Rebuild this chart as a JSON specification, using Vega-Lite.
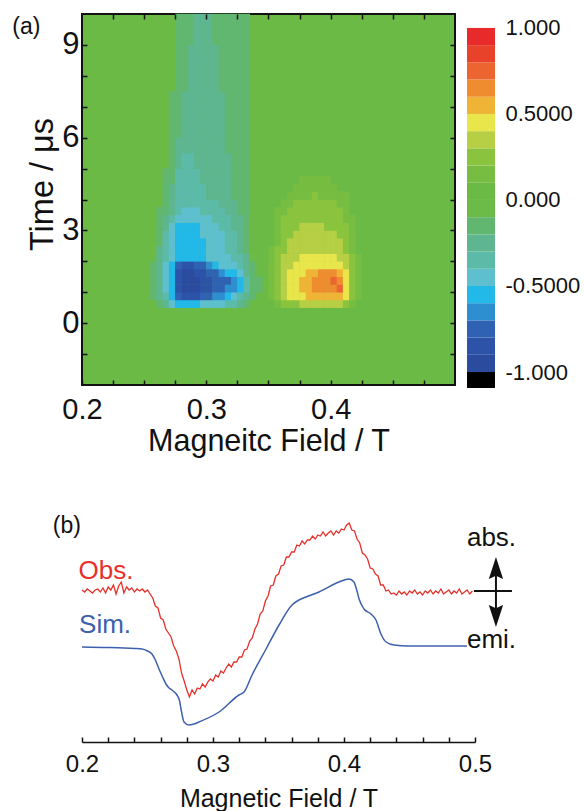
{
"$schema":"https://vega.github.io/schema/vega-lite/v6.json",
"padding":{"left":11,"top":12,"right":0,"bottom":0},
"background":"white",
"config":{"font":"Liberation Sans","view":{"stroke":null},"axis":{"labelColor":"#111","titleColor":"#111","domainColor":"#111","tickColor":"#111","grid":false,"labelFlush":false,"labelOverlap":false,"titleFontWeight":"normal"}},
"datasets":{
"cells":[
{"x":0.2625,"t":0.625,"v":-0.15},{"x":0.2675,"t":0.625,"v":-0.3},{"x":0.2725,"t":0.625,"v":-0.42},{"x":0.2775,"t":0.625,"v":-0.52},{"x":0.2825,"t":0.625,"v":-0.55},{"x":0.2875,"t":0.625,"v":-0.55},{"x":0.2925,"t":0.625,"v":-0.54},{"x":0.2975,"t":0.625,"v":-0.5},{"x":0.3025,"t":0.625,"v":-0.46},{"x":0.3075,"t":0.625,"v":-0.45},{"x":0.3125,"t":0.625,"v":-0.42},{"x":0.3175,"t":0.625,"v":-0.38},{"x":0.3225,"t":0.625,"v":-0.33},{"x":0.3275,"t":0.625,"v":-0.26},{"x":0.3325,"t":0.625,"v":-0.16},
{"x":0.2575,"t":0.875,"v":-0.12},{"x":0.2625,"t":0.875,"v":-0.25},{"x":0.2675,"t":0.875,"v":-0.4},{"x":0.2725,"t":0.875,"v":-0.52},{"x":0.2775,"t":0.875,"v":-0.72},{"x":0.2825,"t":0.875,"v":-0.85},{"x":0.2875,"t":0.875,"v":-0.86},{"x":0.2925,"t":0.875,"v":-0.82},{"x":0.2975,"t":0.875,"v":-0.76},{"x":0.3025,"t":0.875,"v":-0.72},{"x":0.3075,"t":0.875,"v":-0.68},{"x":0.3125,"t":0.875,"v":-0.64},{"x":0.3175,"t":0.875,"v":-0.58},{"x":0.3225,"t":0.875,"v":-0.5},{"x":0.3275,"t":0.875,"v":-0.4},{"x":0.3325,"t":0.875,"v":-0.28},{"x":0.3375,"t":0.875,"v":-0.14},
{"x":0.2575,"t":1.125,"v":-0.15},{"x":0.2625,"t":1.125,"v":-0.3},{"x":0.2675,"t":1.125,"v":-0.45},{"x":0.2725,"t":1.125,"v":-0.58},{"x":0.2775,"t":1.125,"v":-0.84},{"x":0.2825,"t":1.125,"v":-0.94},{"x":0.2875,"t":1.125,"v":-0.95},{"x":0.2925,"t":1.125,"v":-0.92},{"x":0.2975,"t":1.125,"v":-0.86},{"x":0.3025,"t":1.125,"v":-0.82},{"x":0.3075,"t":1.125,"v":-0.78},{"x":0.3125,"t":1.125,"v":-0.74},{"x":0.3175,"t":1.125,"v":-0.7},{"x":0.3225,"t":1.125,"v":-0.64},{"x":0.3275,"t":1.125,"v":-0.56},{"x":0.3325,"t":1.125,"v":-0.38},{"x":0.3375,"t":1.125,"v":-0.2},{"x":0.3425,"t":1.125,"v":-0.11},
{"x":0.2575,"t":1.375,"v":-0.15},{"x":0.2625,"t":1.375,"v":-0.3},{"x":0.2675,"t":1.375,"v":-0.45},{"x":0.2725,"t":1.375,"v":-0.6},{"x":0.2775,"t":1.375,"v":-0.86},{"x":0.2825,"t":1.375,"v":-0.95},{"x":0.2875,"t":1.375,"v":-0.96},{"x":0.2925,"t":1.375,"v":-0.93},{"x":0.2975,"t":1.375,"v":-0.86},{"x":0.3025,"t":1.375,"v":-0.82},{"x":0.3075,"t":1.375,"v":-0.79},{"x":0.3125,"t":1.375,"v":-0.76},{"x":0.3175,"t":1.375,"v":-0.72},{"x":0.3225,"t":1.375,"v":-0.67},{"x":0.3275,"t":1.375,"v":-0.6},{"x":0.3325,"t":1.375,"v":-0.4},{"x":0.3375,"t":1.375,"v":-0.2},{"x":0.3425,"t":1.375,"v":-0.11},
{"x":0.2575,"t":1.625,"v":-0.14},{"x":0.2625,"t":1.625,"v":-0.29},{"x":0.2675,"t":1.625,"v":-0.44},{"x":0.2725,"t":1.625,"v":-0.58},{"x":0.2775,"t":1.625,"v":-0.82},{"x":0.2825,"t":1.625,"v":-0.92},{"x":0.2875,"t":1.625,"v":-0.93},{"x":0.2925,"t":1.625,"v":-0.88},{"x":0.2975,"t":1.625,"v":-0.82},{"x":0.3025,"t":1.625,"v":-0.77},{"x":0.3075,"t":1.625,"v":-0.72},{"x":0.3125,"t":1.625,"v":-0.67},{"x":0.3175,"t":1.625,"v":-0.6},{"x":0.3225,"t":1.625,"v":-0.53},{"x":0.3275,"t":1.625,"v":-0.44},{"x":0.3325,"t":1.625,"v":-0.3},{"x":0.3375,"t":1.625,"v":-0.15},
{"x":0.2575,"t":1.875,"v":-0.12},{"x":0.2625,"t":1.875,"v":-0.27},{"x":0.2675,"t":1.875,"v":-0.42},{"x":0.2725,"t":1.875,"v":-0.55},{"x":0.2775,"t":1.875,"v":-0.74},{"x":0.2825,"t":1.875,"v":-0.83},{"x":0.2875,"t":1.875,"v":-0.83},{"x":0.2925,"t":1.875,"v":-0.78},{"x":0.2975,"t":1.875,"v":-0.71},{"x":0.3025,"t":1.875,"v":-0.63},{"x":0.3075,"t":1.875,"v":-0.56},{"x":0.3125,"t":1.875,"v":-0.5},{"x":0.3175,"t":1.875,"v":-0.46},{"x":0.3225,"t":1.875,"v":-0.41},{"x":0.3275,"t":1.875,"v":-0.35},{"x":0.3325,"t":1.875,"v":-0.25},{"x":0.3375,"t":1.875,"v":-0.12},
{"x":0.2575,"t":2.125,"v":-0.1},{"x":0.2625,"t":2.125,"v":-0.24},{"x":0.2675,"t":2.125,"v":-0.4},{"x":0.2725,"t":2.125,"v":-0.48},{"x":0.2775,"t":2.125,"v":-0.56},{"x":0.2825,"t":2.125,"v":-0.6},{"x":0.2875,"t":2.125,"v":-0.6},{"x":0.2925,"t":2.125,"v":-0.57},{"x":0.2975,"t":2.125,"v":-0.53},{"x":0.3025,"t":2.125,"v":-0.48},{"x":0.3075,"t":2.125,"v":-0.46},{"x":0.3125,"t":2.125,"v":-0.44},{"x":0.3175,"t":2.125,"v":-0.41},{"x":0.3225,"t":2.125,"v":-0.37},{"x":0.3275,"t":2.125,"v":-0.31},{"x":0.3325,"t":2.125,"v":-0.21},{"x":0.3375,"t":2.125,"v":-0.1},
{"x":0.2575,"t":2.375,"v":-0.1},{"x":0.2625,"t":2.375,"v":-0.22},{"x":0.2675,"t":2.375,"v":-0.37},{"x":0.2725,"t":2.375,"v":-0.46},{"x":0.2775,"t":2.375,"v":-0.55},{"x":0.2825,"t":2.375,"v":-0.57},{"x":0.2875,"t":2.375,"v":-0.57},{"x":0.2925,"t":2.375,"v":-0.55},{"x":0.2975,"t":2.375,"v":-0.52},{"x":0.3025,"t":2.375,"v":-0.47},{"x":0.3075,"t":2.375,"v":-0.45},{"x":0.3125,"t":2.375,"v":-0.43},{"x":0.3175,"t":2.375,"v":-0.4},{"x":0.3225,"t":2.375,"v":-0.35},{"x":0.3275,"t":2.375,"v":-0.29},{"x":0.3325,"t":2.375,"v":-0.19},
{"x":0.2625,"t":2.625,"v":-0.2},{"x":0.2675,"t":2.625,"v":-0.35},{"x":0.2725,"t":2.625,"v":-0.45},{"x":0.2775,"t":2.625,"v":-0.54},{"x":0.2825,"t":2.625,"v":-0.56},{"x":0.2875,"t":2.625,"v":-0.56},{"x":0.2925,"t":2.625,"v":-0.54},{"x":0.2975,"t":2.625,"v":-0.51},{"x":0.3025,"t":2.625,"v":-0.47},{"x":0.3075,"t":2.625,"v":-0.44},{"x":0.3125,"t":2.625,"v":-0.42},{"x":0.3175,"t":2.625,"v":-0.38},{"x":0.3225,"t":2.625,"v":-0.34},{"x":0.3275,"t":2.625,"v":-0.27},{"x":0.3325,"t":2.625,"v":-0.17},
{"x":0.2625,"t":2.875,"v":-0.19},{"x":0.2675,"t":2.875,"v":-0.33},{"x":0.2725,"t":2.875,"v":-0.44},{"x":0.2775,"t":2.875,"v":-0.53},{"x":0.2825,"t":2.875,"v":-0.55},{"x":0.2875,"t":2.875,"v":-0.55},{"x":0.2925,"t":2.875,"v":-0.53},{"x":0.2975,"t":2.875,"v":-0.5},{"x":0.3025,"t":2.875,"v":-0.46},{"x":0.3075,"t":2.875,"v":-0.43},{"x":0.3125,"t":2.875,"v":-0.41},{"x":0.3175,"t":2.875,"v":-0.37},{"x":0.3225,"t":2.875,"v":-0.32},{"x":0.3275,"t":2.875,"v":-0.25},{"x":0.3325,"t":2.875,"v":-0.15},
{"x":0.2625,"t":3.125,"v":-0.17},{"x":0.2675,"t":3.125,"v":-0.3},{"x":0.2725,"t":3.125,"v":-0.42},{"x":0.2775,"t":3.125,"v":-0.51},{"x":0.2825,"t":3.125,"v":-0.53},{"x":0.2875,"t":3.125,"v":-0.53},{"x":0.2925,"t":3.125,"v":-0.52},{"x":0.2975,"t":3.125,"v":-0.47},{"x":0.3025,"t":3.125,"v":-0.44},{"x":0.3075,"t":3.125,"v":-0.42},{"x":0.3125,"t":3.125,"v":-0.4},{"x":0.3175,"t":3.125,"v":-0.35},{"x":0.3225,"t":3.125,"v":-0.3},{"x":0.3275,"t":3.125,"v":-0.23},{"x":0.3325,"t":3.125,"v":-0.14},
{"x":0.2625,"t":3.375,"v":-0.14},{"x":0.2675,"t":3.375,"v":-0.25},{"x":0.2725,"t":3.375,"v":-0.38},{"x":0.2775,"t":3.375,"v":-0.46},{"x":0.2825,"t":3.375,"v":-0.48},{"x":0.2875,"t":3.375,"v":-0.48},{"x":0.2925,"t":3.375,"v":-0.46},{"x":0.2975,"t":3.375,"v":-0.44},{"x":0.3025,"t":3.375,"v":-0.42},{"x":0.3075,"t":3.375,"v":-0.4},{"x":0.3125,"t":3.375,"v":-0.37},{"x":0.3175,"t":3.375,"v":-0.33},{"x":0.3225,"t":3.375,"v":-0.28},{"x":0.3275,"t":3.375,"v":-0.21},{"x":0.3325,"t":3.375,"v":-0.13},
{"x":0.2625,"t":3.625,"v":-0.12},{"x":0.2675,"t":3.625,"v":-0.2},{"x":0.2725,"t":3.625,"v":-0.3},{"x":0.2775,"t":3.625,"v":-0.38},{"x":0.2825,"t":3.625,"v":-0.42},{"x":0.2875,"t":3.625,"v":-0.42},{"x":0.2925,"t":3.625,"v":-0.41},{"x":0.2975,"t":3.625,"v":-0.39},{"x":0.3025,"t":3.625,"v":-0.37},{"x":0.3075,"t":3.625,"v":-0.35},{"x":0.3125,"t":3.625,"v":-0.32},{"x":0.3175,"t":3.625,"v":-0.29},{"x":0.3225,"t":3.625,"v":-0.24},{"x":0.3275,"t":3.625,"v":-0.19},{"x":0.3325,"t":3.625,"v":-0.12},
{"x":0.2675,"t":3.875,"v":-0.15},{"x":0.2725,"t":3.875,"v":-0.25},{"x":0.2775,"t":3.875,"v":-0.33},{"x":0.2825,"t":3.875,"v":-0.36},{"x":0.2875,"t":3.875,"v":-0.37},{"x":0.2925,"t":3.875,"v":-0.37},{"x":0.2975,"t":3.875,"v":-0.36},{"x":0.3025,"t":3.875,"v":-0.34},{"x":0.3075,"t":3.875,"v":-0.32},{"x":0.3125,"t":3.875,"v":-0.29},{"x":0.3175,"t":3.875,"v":-0.26},{"x":0.3225,"t":3.875,"v":-0.22},{"x":0.3275,"t":3.875,"v":-0.17},{"x":0.3325,"t":3.875,"v":-0.11},
{"x":0.3575,"t":0.625,"v":0.12},{"x":0.3625,"t":0.625,"v":0.2},{"x":0.3675,"t":0.625,"v":0.25},{"x":0.3725,"t":0.625,"v":0.28},{"x":0.3775,"t":0.625,"v":0.3},{"x":0.3825,"t":0.625,"v":0.32},{"x":0.3875,"t":0.625,"v":0.33},{"x":0.3925,"t":0.625,"v":0.33},{"x":0.3975,"t":0.625,"v":0.33},{"x":0.4025,"t":0.625,"v":0.32},{"x":0.4075,"t":0.625,"v":0.3},{"x":0.4125,"t":0.625,"v":0.25},{"x":0.4175,"t":0.625,"v":0.15},
{"x":0.3525,"t":0.875,"v":0.12},{"x":0.3575,"t":0.875,"v":0.22},{"x":0.3625,"t":0.875,"v":0.33},{"x":0.3675,"t":0.875,"v":0.42},{"x":0.3725,"t":0.875,"v":0.45},{"x":0.3775,"t":0.875,"v":0.47},{"x":0.3825,"t":0.875,"v":0.5},{"x":0.3875,"t":0.875,"v":0.52},{"x":0.3925,"t":0.875,"v":0.53},{"x":0.3975,"t":0.875,"v":0.53},{"x":0.4025,"t":0.875,"v":0.52},{"x":0.4075,"t":0.875,"v":0.5},{"x":0.4125,"t":0.875,"v":0.42},{"x":0.4175,"t":0.875,"v":0.25},{"x":0.4225,"t":0.875,"v":0.12},
{"x":0.3525,"t":1.125,"v":0.15},{"x":0.3575,"t":1.125,"v":0.25},{"x":0.3625,"t":1.125,"v":0.35},{"x":0.3675,"t":1.125,"v":0.45},{"x":0.3725,"t":1.125,"v":0.48},{"x":0.3775,"t":1.125,"v":0.5},{"x":0.3825,"t":1.125,"v":0.56},{"x":0.3875,"t":1.125,"v":0.62},{"x":0.3925,"t":1.125,"v":0.64},{"x":0.3975,"t":1.125,"v":0.65},{"x":0.4025,"t":1.125,"v":0.68},{"x":0.4075,"t":1.125,"v":0.72},{"x":0.4125,"t":1.125,"v":0.45},{"x":0.4175,"t":1.125,"v":0.28},{"x":0.4225,"t":1.125,"v":0.13},
{"x":0.3525,"t":1.375,"v":0.15},{"x":0.3575,"t":1.375,"v":0.25},{"x":0.3625,"t":1.375,"v":0.36},{"x":0.3675,"t":1.375,"v":0.45},{"x":0.3725,"t":1.375,"v":0.48},{"x":0.3775,"t":1.375,"v":0.5},{"x":0.3825,"t":1.375,"v":0.57},{"x":0.3875,"t":1.375,"v":0.63},{"x":0.3925,"t":1.375,"v":0.65},{"x":0.3975,"t":1.375,"v":0.66},{"x":0.4025,"t":1.375,"v":0.7},{"x":0.4075,"t":1.375,"v":0.66},{"x":0.4125,"t":1.375,"v":0.46},{"x":0.4175,"t":1.375,"v":0.28},{"x":0.4225,"t":1.375,"v":0.13},
{"x":0.3525,"t":1.625,"v":0.14},{"x":0.3575,"t":1.625,"v":0.24},{"x":0.3625,"t":1.625,"v":0.34},{"x":0.3675,"t":1.625,"v":0.43},{"x":0.3725,"t":1.625,"v":0.46},{"x":0.3775,"t":1.625,"v":0.48},{"x":0.3825,"t":1.625,"v":0.54},{"x":0.3875,"t":1.625,"v":0.58},{"x":0.3925,"t":1.625,"v":0.6},{"x":0.3975,"t":1.625,"v":0.61},{"x":0.4025,"t":1.625,"v":0.6},{"x":0.4075,"t":1.625,"v":0.56},{"x":0.4125,"t":1.625,"v":0.44},{"x":0.4175,"t":1.625,"v":0.26},{"x":0.4225,"t":1.625,"v":0.12},
{"x":0.3525,"t":1.875,"v":0.13},{"x":0.3575,"t":1.875,"v":0.23},{"x":0.3625,"t":1.875,"v":0.32},{"x":0.3675,"t":1.875,"v":0.38},{"x":0.3725,"t":1.875,"v":0.42},{"x":0.3775,"t":1.875,"v":0.45},{"x":0.3825,"t":1.875,"v":0.47},{"x":0.3875,"t":1.875,"v":0.48},{"x":0.3925,"t":1.875,"v":0.48},{"x":0.3975,"t":1.875,"v":0.47},{"x":0.4025,"t":1.875,"v":0.46},{"x":0.4075,"t":1.875,"v":0.44},{"x":0.4125,"t":1.875,"v":0.36},{"x":0.4175,"t":1.875,"v":0.22},{"x":0.4225,"t":1.875,"v":0.11},
{"x":0.3525,"t":2.125,"v":0.12},{"x":0.3575,"t":2.125,"v":0.22},{"x":0.3625,"t":2.125,"v":0.3},{"x":0.3675,"t":2.125,"v":0.35},{"x":0.3725,"t":2.125,"v":0.38},{"x":0.3775,"t":2.125,"v":0.41},{"x":0.3825,"t":2.125,"v":0.43},{"x":0.3875,"t":2.125,"v":0.44},{"x":0.3925,"t":2.125,"v":0.44},{"x":0.3975,"t":2.125,"v":0.43},{"x":0.4025,"t":2.125,"v":0.42},{"x":0.4075,"t":2.125,"v":0.38},{"x":0.4125,"t":2.125,"v":0.32},{"x":0.4175,"t":2.125,"v":0.2},{"x":0.4225,"t":2.125,"v":0.1},
{"x":0.3525,"t":2.375,"v":0.11},{"x":0.3575,"t":2.375,"v":0.2},{"x":0.3625,"t":2.375,"v":0.28},{"x":0.3675,"t":2.375,"v":0.32},{"x":0.3725,"t":2.375,"v":0.35},{"x":0.3775,"t":2.375,"v":0.37},{"x":0.3825,"t":2.375,"v":0.38},{"x":0.3875,"t":2.375,"v":0.39},{"x":0.3925,"t":2.375,"v":0.38},{"x":0.3975,"t":2.375,"v":0.37},{"x":0.4025,"t":2.375,"v":0.36},{"x":0.4075,"t":2.375,"v":0.34},{"x":0.4125,"t":2.375,"v":0.28},{"x":0.4175,"t":2.375,"v":0.18},
{"x":0.3575,"t":2.625,"v":0.18},{"x":0.3625,"t":2.625,"v":0.26},{"x":0.3675,"t":2.625,"v":0.3},{"x":0.3725,"t":2.625,"v":0.33},{"x":0.3775,"t":2.625,"v":0.35},{"x":0.3825,"t":2.625,"v":0.36},{"x":0.3875,"t":2.625,"v":0.36},{"x":0.3925,"t":2.625,"v":0.35},{"x":0.3975,"t":2.625,"v":0.34},{"x":0.4025,"t":2.625,"v":0.33},{"x":0.4075,"t":2.625,"v":0.31},{"x":0.4125,"t":2.625,"v":0.25},{"x":0.4175,"t":2.625,"v":0.15},
{"x":0.3575,"t":2.875,"v":0.16},{"x":0.3625,"t":2.875,"v":0.24},{"x":0.3675,"t":2.875,"v":0.28},{"x":0.3725,"t":2.875,"v":0.31},{"x":0.3775,"t":2.875,"v":0.33},{"x":0.3825,"t":2.875,"v":0.33},{"x":0.3875,"t":2.875,"v":0.34},{"x":0.3925,"t":2.875,"v":0.33},{"x":0.3975,"t":2.875,"v":0.32},{"x":0.4025,"t":2.875,"v":0.31},{"x":0.4075,"t":2.875,"v":0.28},{"x":0.4125,"t":2.875,"v":0.22},{"x":0.4175,"t":2.875,"v":0.13},
{"x":0.3575,"t":3.125,"v":0.14},{"x":0.3625,"t":3.125,"v":0.22},{"x":0.3675,"t":3.125,"v":0.26},{"x":0.3725,"t":3.125,"v":0.28},{"x":0.3775,"t":3.125,"v":0.3},{"x":0.3825,"t":3.125,"v":0.31},{"x":0.3875,"t":3.125,"v":0.31},{"x":0.3925,"t":3.125,"v":0.3},{"x":0.3975,"t":3.125,"v":0.29},{"x":0.4025,"t":3.125,"v":0.28},{"x":0.4075,"t":3.125,"v":0.25},{"x":0.4125,"t":3.125,"v":0.2},{"x":0.4175,"t":3.125,"v":0.12},
{"x":0.3575,"t":3.375,"v":0.13},{"x":0.3625,"t":3.375,"v":0.2},{"x":0.3675,"t":3.375,"v":0.24},{"x":0.3725,"t":3.375,"v":0.26},{"x":0.3775,"t":3.375,"v":0.27},{"x":0.3825,"t":3.375,"v":0.28},{"x":0.3875,"t":3.375,"v":0.28},{"x":0.3925,"t":3.375,"v":0.28},{"x":0.3975,"t":3.375,"v":0.27},{"x":0.4025,"t":3.375,"v":0.26},{"x":0.4075,"t":3.375,"v":0.23},{"x":0.4125,"t":3.375,"v":0.17},{"x":0.4175,"t":3.375,"v":0.11},
{"x":0.3575,"t":3.625,"v":0.12},{"x":0.3625,"t":3.625,"v":0.17},{"x":0.3675,"t":3.625,"v":0.22},{"x":0.3725,"t":3.625,"v":0.24},{"x":0.3775,"t":3.625,"v":0.25},{"x":0.3825,"t":3.625,"v":0.26},{"x":0.3875,"t":3.625,"v":0.27},{"x":0.3925,"t":3.625,"v":0.26},{"x":0.3975,"t":3.625,"v":0.25},{"x":0.4025,"t":3.625,"v":0.24},{"x":0.4075,"t":3.625,"v":0.2},{"x":0.4125,"t":3.625,"v":0.15},
{"x":0.3625,"t":3.875,"v":0.15},{"x":0.3675,"t":3.875,"v":0.18},{"x":0.3725,"t":3.875,"v":0.21},{"x":0.3775,"t":3.875,"v":0.22},{"x":0.3825,"t":3.875,"v":0.24},{"x":0.3875,"t":3.875,"v":0.24},{"x":0.3925,"t":3.875,"v":0.23},{"x":0.3975,"t":3.875,"v":0.22},{"x":0.4025,"t":3.875,"v":0.21},{"x":0.4075,"t":3.875,"v":0.17},{"x":0.4125,"t":3.875,"v":0.13},
{"x":0.3675,"t":4.125,"v":0.14},{"x":0.3725,"t":4.125,"v":0.16},{"x":0.3775,"t":4.125,"v":0.18},{"x":0.3825,"t":4.125,"v":0.19},{"x":0.3875,"t":4.125,"v":0.21},{"x":0.3925,"t":4.125,"v":0.19},{"x":0.3975,"t":4.125,"v":0.18},{"x":0.4025,"t":4.125,"v":0.16},{"x":0.4075,"t":4.125,"v":0.13},{"x":0.4125,"t":4.125,"v":0.11},
{"x":0.3725,"t":4.375,"v":0.12},{"x":0.3775,"t":4.375,"v":0.14},{"x":0.3825,"t":4.375,"v":0.15},{"x":0.3875,"t":4.375,"v":0.16},{"x":0.3925,"t":4.375,"v":0.15},{"x":0.3975,"t":4.375,"v":0.14},{"x":0.4025,"t":4.375,"v":0.12},
{"x":0.3775,"t":4.625,"v":0.11},{"x":0.3825,"t":4.625,"v":0.12},{"x":0.3875,"t":4.625,"v":0.13},{"x":0.3925,"t":4.625,"v":0.12},{"x":0.3975,"t":4.625,"v":0.11}
],
"tail":[
{"x":0.2675,"t":4.25,"v":-0.12},{"x":0.2725,"t":4.25,"v":-0.22},{"x":0.2775,"t":4.25,"v":-0.32},{"x":0.2825,"t":4.25,"v":-0.35},{"x":0.2875,"t":4.25,"v":-0.35},{"x":0.2925,"t":4.25,"v":-0.34},{"x":0.2975,"t":4.25,"v":-0.32},{"x":0.3025,"t":4.25,"v":-0.3},{"x":0.3075,"t":4.25,"v":-0.28},{"x":0.3125,"t":4.25,"v":-0.26},{"x":0.3175,"t":4.25,"v":-0.23},{"x":0.3225,"t":4.25,"v":-0.2},{"x":0.3275,"t":4.25,"v":-0.15},{"x":0.3325,"t":4.25,"v":-0.11},
{"x":0.2675,"t":4.75,"v":-0.11},{"x":0.2725,"t":4.75,"v":-0.2},{"x":0.2775,"t":4.75,"v":-0.31},{"x":0.2825,"t":4.75,"v":-0.34},{"x":0.2875,"t":4.75,"v":-0.34},{"x":0.2925,"t":4.75,"v":-0.32},{"x":0.2975,"t":4.75,"v":-0.3},{"x":0.3025,"t":4.75,"v":-0.28},{"x":0.3075,"t":4.75,"v":-0.26},{"x":0.3125,"t":4.75,"v":-0.24},{"x":0.3175,"t":4.75,"v":-0.22},{"x":0.3225,"t":4.75,"v":-0.19},{"x":0.3275,"t":4.75,"v":-0.15},{"x":0.3325,"t":4.75,"v":-0.11},
{"x":0.2725,"t":5.25,"v":-0.18},{"x":0.2775,"t":5.25,"v":-0.27},{"x":0.2825,"t":5.25,"v":-0.31},{"x":0.2875,"t":5.25,"v":-0.31},{"x":0.2925,"t":5.25,"v":-0.3},{"x":0.2975,"t":5.25,"v":-0.28},{"x":0.3025,"t":5.25,"v":-0.26},{"x":0.3075,"t":5.25,"v":-0.25},{"x":0.3125,"t":5.25,"v":-0.23},{"x":0.3175,"t":5.25,"v":-0.21},{"x":0.3225,"t":5.25,"v":-0.18},{"x":0.3275,"t":5.25,"v":-0.14},{"x":0.3325,"t":5.25,"v":-0.11},
{"x":0.2725,"t":5.75,"v":-0.15},{"x":0.2775,"t":5.75,"v":-0.22},{"x":0.2825,"t":5.75,"v":-0.27},{"x":0.2875,"t":5.75,"v":-0.28},{"x":0.2925,"t":5.75,"v":-0.28},{"x":0.2975,"t":5.75,"v":-0.27},{"x":0.3025,"t":5.75,"v":-0.25},{"x":0.3075,"t":5.75,"v":-0.24},{"x":0.3125,"t":5.75,"v":-0.22},{"x":0.3175,"t":5.75,"v":-0.2},{"x":0.3225,"t":5.75,"v":-0.17},{"x":0.3275,"t":5.75,"v":-0.14},{"x":0.3325,"t":5.75,"v":-0.11},
{"x":0.2725,"t":6.25,"v":-0.13},{"x":0.2775,"t":6.25,"v":-0.19},{"x":0.2825,"t":6.25,"v":-0.23},{"x":0.2875,"t":6.25,"v":-0.26},{"x":0.2925,"t":6.25,"v":-0.27},{"x":0.2975,"t":6.25,"v":-0.26},{"x":0.3025,"t":6.25,"v":-0.25},{"x":0.3075,"t":6.25,"v":-0.24},{"x":0.3125,"t":6.25,"v":-0.22},{"x":0.3175,"t":6.25,"v":-0.2},{"x":0.3225,"t":6.25,"v":-0.17},{"x":0.3275,"t":6.25,"v":-0.14},{"x":0.3325,"t":6.25,"v":-0.11},
{"x":0.2725,"t":6.75,"v":-0.12},{"x":0.2775,"t":6.75,"v":-0.18},{"x":0.2825,"t":6.75,"v":-0.22},{"x":0.2875,"t":6.75,"v":-0.25},{"x":0.2925,"t":6.75,"v":-0.26},{"x":0.2975,"t":6.75,"v":-0.26},{"x":0.3025,"t":6.75,"v":-0.25},{"x":0.3075,"t":6.75,"v":-0.23},{"x":0.3125,"t":6.75,"v":-0.21},{"x":0.3175,"t":6.75,"v":-0.19},{"x":0.3225,"t":6.75,"v":-0.16},{"x":0.3275,"t":6.75,"v":-0.13},{"x":0.3325,"t":6.75,"v":-0.11},
{"x":0.2725,"t":7.25,"v":-0.11},{"x":0.2775,"t":7.25,"v":-0.17},{"x":0.2825,"t":7.25,"v":-0.21},{"x":0.2875,"t":7.25,"v":-0.24},{"x":0.2925,"t":7.25,"v":-0.25},{"x":0.2975,"t":7.25,"v":-0.25},{"x":0.3025,"t":7.25,"v":-0.24},{"x":0.3075,"t":7.25,"v":-0.22},{"x":0.3125,"t":7.25,"v":-0.21},{"x":0.3175,"t":7.25,"v":-0.19},{"x":0.3225,"t":7.25,"v":-0.16},{"x":0.3275,"t":7.25,"v":-0.13},{"x":0.3325,"t":7.25,"v":-0.11},
{"x":0.2775,"t":7.75,"v":-0.16},{"x":0.2825,"t":7.75,"v":-0.2},{"x":0.2875,"t":7.75,"v":-0.23},{"x":0.2925,"t":7.75,"v":-0.24},{"x":0.2975,"t":7.75,"v":-0.24},{"x":0.3025,"t":7.75,"v":-0.23},{"x":0.3075,"t":7.75,"v":-0.22},{"x":0.3125,"t":7.75,"v":-0.2},{"x":0.3175,"t":7.75,"v":-0.18},{"x":0.3225,"t":7.75,"v":-0.16},{"x":0.3275,"t":7.75,"v":-0.13},{"x":0.3325,"t":7.75,"v":-0.11},
{"x":0.2775,"t":8.25,"v":-0.15},{"x":0.2825,"t":8.25,"v":-0.19},{"x":0.2875,"t":8.25,"v":-0.22},{"x":0.2925,"t":8.25,"v":-0.23},{"x":0.2975,"t":8.25,"v":-0.23},{"x":0.3025,"t":8.25,"v":-0.22},{"x":0.3075,"t":8.25,"v":-0.21},{"x":0.3125,"t":8.25,"v":-0.2},{"x":0.3175,"t":8.25,"v":-0.18},{"x":0.3225,"t":8.25,"v":-0.15},{"x":0.3275,"t":8.25,"v":-0.13},{"x":0.3325,"t":8.25,"v":-0.11},
{"x":0.2775,"t":8.75,"v":-0.14},{"x":0.2825,"t":8.75,"v":-0.18},{"x":0.2875,"t":8.75,"v":-0.21},{"x":0.2925,"t":8.75,"v":-0.22},{"x":0.2975,"t":8.75,"v":-0.22},{"x":0.3025,"t":8.75,"v":-0.22},{"x":0.3075,"t":8.75,"v":-0.21},{"x":0.3125,"t":8.75,"v":-0.19},{"x":0.3175,"t":8.75,"v":-0.17},{"x":0.3225,"t":8.75,"v":-0.15},{"x":0.3275,"t":8.75,"v":-0.12},{"x":0.3325,"t":8.75,"v":-0.11},
{"x":0.2775,"t":9.25,"v":-0.14},{"x":0.2825,"t":9.25,"v":-0.17},{"x":0.2875,"t":9.25,"v":-0.2},{"x":0.2925,"t":9.25,"v":-0.21},{"x":0.2975,"t":9.25,"v":-0.22},{"x":0.3025,"t":9.25,"v":-0.21},{"x":0.3075,"t":9.25,"v":-0.2},{"x":0.3125,"t":9.25,"v":-0.19},{"x":0.3175,"t":9.25,"v":-0.17},{"x":0.3225,"t":9.25,"v":-0.15},{"x":0.3275,"t":9.25,"v":-0.12},{"x":0.3325,"t":9.25,"v":-0.11},
{"x":0.2775,"t":9.75,"v":-0.13},{"x":0.2825,"t":9.75,"v":-0.17},{"x":0.2875,"t":9.75,"v":-0.2},{"x":0.2925,"t":9.75,"v":-0.21},{"x":0.2975,"t":9.75,"v":-0.21},{"x":0.3025,"t":9.75,"v":-0.21},{"x":0.3075,"t":9.75,"v":-0.2},{"x":0.3125,"t":9.75,"v":-0.18},{"x":0.3175,"t":9.75,"v":-0.16},{"x":0.3225,"t":9.75,"v":-0.14},{"x":0.3275,"t":9.75,"v":-0.12},{"x":0.3325,"t":9.75,"v":-0.11}
],
"bar":[
{"lo":-1.093,"hi":-1.0,"v":-1.05},{"lo":-1.0,"hi":-0.9,"v":-0.95},{"lo":-0.9,"hi":-0.8,"v":-0.85},{"lo":-0.8,"hi":-0.7,"v":-0.75},{"lo":-0.7,"hi":-0.6,"v":-0.65},{"lo":-0.6,"hi":-0.5,"v":-0.55},{"lo":-0.5,"hi":-0.4,"v":-0.45},{"lo":-0.4,"hi":-0.3,"v":-0.35},{"lo":-0.3,"hi":-0.2,"v":-0.25},{"lo":-0.2,"hi":-0.1,"v":-0.15},{"lo":-0.1,"hi":0.0,"v":-0.05},{"lo":0.0,"hi":0.1,"v":0.05},{"lo":0.1,"hi":0.2,"v":0.15},{"lo":0.2,"hi":0.3,"v":0.25},{"lo":0.3,"hi":0.4,"v":0.35},{"lo":0.4,"hi":0.5,"v":0.45},{"lo":0.5,"hi":0.6,"v":0.55},{"lo":0.6,"hi":0.7,"v":0.65},{"lo":0.7,"hi":0.8,"v":0.75},{"lo":0.8,"hi":0.9,"v":0.85},{"lo":0.9,"hi":1.0,"v":0.95}
],
"lines":[
{"B":0.200,"I":1,"s":"Obs"},{"B":0.202,"I":-1,"s":"Obs"},{"B":0.204,"I":2,"s":"Obs"},{"B":0.206,"I":0,"s":"Obs"},{"B":0.208,"I":-2,"s":"Obs"},{"B":0.210,"I":1,"s":"Obs"},{"B":0.212,"I":2,"s":"Obs"},{"B":0.214,"I":-1,"s":"Obs"},{"B":0.216,"I":3,"s":"Obs"},{"B":0.218,"I":-2,"s":"Obs"},{"B":0.220,"I":4,"s":"Obs"},{"B":0.222,"I":1,"s":"Obs"},{"B":0.224,"I":6,"s":"Obs"},{"B":0.226,"I":-3,"s":"Obs"},{"B":0.228,"I":5,"s":"Obs"},{"B":0.230,"I":9,"s":"Obs"},{"B":0.232,"I":-2,"s":"Obs"},{"B":0.234,"I":4,"s":"Obs"},{"B":0.236,"I":1,"s":"Obs"},{"B":0.238,"I":3,"s":"Obs"},{"B":0.240,"I":-1,"s":"Obs"},{"B":0.242,"I":2,"s":"Obs"},{"B":0.244,"I":0,"s":"Obs"},{"B":0.246,"I":2,"s":"Obs"},{"B":0.248,"I":-1,"s":"Obs"},{"B":0.250,"I":1,"s":"Obs"},{"B":0.252,"I":-3,"s":"Obs"},{"B":0.254,"I":-7,"s":"Obs"},{"B":0.256,"I":-15,"s":"Obs"},{"B":0.258,"I":-17,"s":"Obs"},{"B":0.260,"I":-27,"s":"Obs"},{"B":0.262,"I":-29,"s":"Obs"},{"B":0.264,"I":-38,"s":"Obs"},{"B":0.266,"I":-42,"s":"Obs"},{"B":0.268,"I":-46,"s":"Obs"},{"B":0.270,"I":-55,"s":"Obs"},{"B":0.272,"I":-60,"s":"Obs"},{"B":0.274,"I":-68,"s":"Obs"},{"B":0.276,"I":-82,"s":"Obs"},{"B":0.278,"I":-90,"s":"Obs"},{"B":0.280,"I":-99,"s":"Obs"},{"B":0.282,"I":-106,"s":"Obs"},{"B":0.284,"I":-99,"s":"Obs"},{"B":0.286,"I":-103,"s":"Obs"},{"B":0.288,"I":-97,"s":"Obs"},{"B":0.290,"I":-98,"s":"Obs"},{"B":0.292,"I":-93,"s":"Obs"},{"B":0.294,"I":-96,"s":"Obs"},{"B":0.296,"I":-91,"s":"Obs"},{"B":0.298,"I":-88,"s":"Obs"},{"B":0.300,"I":-90,"s":"Obs"},{"B":0.302,"I":-84,"s":"Obs"},{"B":0.304,"I":-86,"s":"Obs"},{"B":0.306,"I":-80,"s":"Obs"},{"B":0.308,"I":-82,"s":"Obs"},{"B":0.310,"I":-77,"s":"Obs"},{"B":0.312,"I":-73,"s":"Obs"},{"B":0.314,"I":-76,"s":"Obs"},{"B":0.316,"I":-71,"s":"Obs"},{"B":0.318,"I":-71,"s":"Obs"},{"B":0.320,"I":-66,"s":"Obs"},{"B":0.322,"I":-66,"s":"Obs"},{"B":0.324,"I":-59,"s":"Obs"},{"B":0.326,"I":-58,"s":"Obs"},{"B":0.328,"I":-50,"s":"Obs"},{"B":0.330,"I":-47,"s":"Obs"},{"B":0.332,"I":-38,"s":"Obs"},{"B":0.334,"I":-33,"s":"Obs"},{"B":0.336,"I":-23,"s":"Obs"},{"B":0.338,"I":-20,"s":"Obs"},{"B":0.340,"I":-10,"s":"Obs"},{"B":0.342,"I":-5,"s":"Obs"},{"B":0.344,"I":5,"s":"Obs"},{"B":0.346,"I":6,"s":"Obs"},{"B":0.348,"I":15,"s":"Obs"},{"B":0.350,"I":17,"s":"Obs"},{"B":0.352,"I":25,"s":"Obs"},{"B":0.354,"I":26,"s":"Obs"},{"B":0.356,"I":34,"s":"Obs"},{"B":0.358,"I":34,"s":"Obs"},{"B":0.360,"I":39,"s":"Obs"},{"B":0.362,"I":39,"s":"Obs"},{"B":0.364,"I":46,"s":"Obs"},{"B":0.366,"I":45,"s":"Obs"},{"B":0.368,"I":50,"s":"Obs"},{"B":0.370,"I":47,"s":"Obs"},{"B":0.372,"I":51,"s":"Obs"},{"B":0.374,"I":51,"s":"Obs"},{"B":0.376,"I":55,"s":"Obs"},{"B":0.378,"I":52,"s":"Obs"},{"B":0.380,"I":56,"s":"Obs"},{"B":0.382,"I":55,"s":"Obs"},{"B":0.384,"I":59,"s":"Obs"},{"B":0.386,"I":55,"s":"Obs"},{"B":0.388,"I":58,"s":"Obs"},{"B":0.390,"I":60,"s":"Obs"},{"B":0.392,"I":56,"s":"Obs"},{"B":0.394,"I":60,"s":"Obs"},{"B":0.396,"I":58,"s":"Obs"},{"B":0.398,"I":62,"s":"Obs"},{"B":0.400,"I":61,"s":"Obs"},{"B":0.402,"I":66,"s":"Obs"},{"B":0.404,"I":68,"s":"Obs"},{"B":0.406,"I":61,"s":"Obs"},{"B":0.408,"I":60,"s":"Obs"},{"B":0.410,"I":52,"s":"Obs"},{"B":0.412,"I":48,"s":"Obs"},{"B":0.414,"I":38,"s":"Obs"},{"B":0.416,"I":36,"s":"Obs"},{"B":0.418,"I":32,"s":"Obs"},{"B":0.420,"I":23,"s":"Obs"},{"B":0.422,"I":22,"s":"Obs"},{"B":0.424,"I":17,"s":"Obs"},{"B":0.426,"I":15,"s":"Obs"},{"B":0.428,"I":6,"s":"Obs"},{"B":0.430,"I":6,"s":"Obs"},{"B":0.432,"I":0,"s":"Obs"},{"B":0.434,"I":1,"s":"Obs"},{"B":0.436,"I":-3,"s":"Obs"},{"B":0.438,"I":-2,"s":"Obs"},{"B":0.440,"I":-4,"s":"Obs"},{"B":0.442,"I":0,"s":"Obs"},{"B":0.444,"I":-3,"s":"Obs"},{"B":0.446,"I":-1,"s":"Obs"},{"B":0.448,"I":-4,"s":"Obs"},{"B":0.450,"I":0,"s":"Obs"},{"B":0.452,"I":-2,"s":"Obs"},{"B":0.454,"I":1,"s":"Obs"},{"B":0.456,"I":-3,"s":"Obs"},{"B":0.458,"I":-1,"s":"Obs"},{"B":0.460,"I":-4,"s":"Obs"},{"B":0.462,"I":0,"s":"Obs"},{"B":0.464,"I":-2,"s":"Obs"},{"B":0.466,"I":1,"s":"Obs"},{"B":0.468,"I":-3,"s":"Obs"},{"B":0.470,"I":0,"s":"Obs"},{"B":0.472,"I":-2,"s":"Obs"},{"B":0.474,"I":2,"s":"Obs"},{"B":0.476,"I":-3,"s":"Obs"},{"B":0.478,"I":-1,"s":"Obs"},{"B":0.480,"I":1,"s":"Obs"},{"B":0.482,"I":-3,"s":"Obs"},{"B":0.484,"I":0,"s":"Obs"},{"B":0.486,"I":-2,"s":"Obs"},{"B":0.488,"I":2,"s":"Obs"},{"B":0.490,"I":-3,"s":"Obs"},{"B":0.492,"I":-1,"s":"Obs"},{"B":0.494,"I":1,"s":"Obs"},{"B":0.496,"I":-3,"s":"Obs"},{"B":0.498,"I":0,"s":"Obs"},
{"B":0.200,"I":-56,"s":"Sim"},{"B":0.220,"I":-56.5,"s":"Sim"},{"B":0.240,"I":-57.5,"s":"Sim"},{"B":0.2458,"I":-58,"s":"Sim"},{"B":0.250,"I":-60,"s":"Sim"},{"B":0.2534,"I":-63,"s":"Sim"},{"B":0.256,"I":-69,"s":"Sim"},{"B":0.2588,"I":-78,"s":"Sim"},{"B":0.2615,"I":-86,"s":"Sim"},{"B":0.2641,"I":-93,"s":"Sim"},{"B":0.2665,"I":-97,"s":"Sim"},{"B":0.2687,"I":-99,"s":"Sim"},{"B":0.2705,"I":-101,"s":"Sim"},{"B":0.2725,"I":-104,"s":"Sim"},{"B":0.2745,"I":-110,"s":"Sim"},{"B":0.2756,"I":-118,"s":"Sim"},{"B":0.2779,"I":-131,"s":"Sim"},{"B":0.2817,"I":-134,"s":"Sim"},{"B":0.2855,"I":-133,"s":"Sim"},{"B":0.2893,"I":-131,"s":"Sim"},{"B":0.3046,"I":-121,"s":"Sim"},{"B":0.3198,"I":-104,"s":"Sim"},{"B":0.3237,"I":-101,"s":"Sim"},{"B":0.3298,"I":-84,"s":"Sim"},{"B":0.3405,"I":-58,"s":"Sim"},{"B":0.3504,"I":-34,"s":"Sim"},{"B":0.3603,"I":-14,"s":"Sim"},{"B":0.3656,"I":-9,"s":"Sim"},{"B":0.3710,"I":-6,"s":"Sim"},{"B":0.3809,"I":-1,"s":"Sim"},{"B":0.3962,"I":9,"s":"Sim"},{"B":0.4038,"I":12,"s":"Sim"},{"B":0.4076,"I":9,"s":"Sim"},{"B":0.4095,"I":2,"s":"Sim"},{"B":0.4115,"I":-8,"s":"Sim"},{"B":0.4153,"I":-18,"s":"Sim"},{"B":0.4206,"I":-23,"s":"Sim"},{"B":0.4244,"I":-29,"s":"Sim"},{"B":0.4282,"I":-43,"s":"Sim"},{"B":0.4321,"I":-51,"s":"Sim"},{"B":0.4382,"I":-54,"s":"Sim"},{"B":0.4496,"I":-55,"s":"Sim"},{"B":0.4939,"I":-55,"s":"Sim"}
],
"notes":[
{"B":0.2183,"I":20,"txt":"Obs.","s":"Obs"},{"B":0.2176,"I":-34,"txt":"Sim.","s":"Sim"},{"B":0.5126,"I":53,"txt":"abs.","s":"k"},{"B":0.5126,"I":-49,"txt":"emi.","s":"k"}
],
"vline":[{"B":0.516,"I":30,"I2":-32}],
"hline":[{"B":0.4992,"B2":0.5282,"I":0}],
"heads":[{"B":0.516,"I":23,"dir":"up"},{"B":0.516,"I":-25,"dir":"down"}]
},
"resolve":{"scale":{"color":"independent","x":"independent","y":"independent"}},
"spacing":54,
"vconcat":[
{
"spacing":10,
"resolve":{"scale":{"color":"independent","x":"independent","y":"independent"}},
"hconcat":[
{
"width":373,"height":371,
"view":{"fill":"#6cba46","stroke":"#111","strokeWidth":2},
"layer":[
{"data":{"name":"cells"},"mark":{"type":"rect","width":6.6,"height":8.2},
 "encoding":{
  "x":{"field":"x","type":"quantitative","scale":{"domain":[0.2,0.5],"nice":false,"zero":false},
   "axis":{"orient":"bottom","zindex":2,"offset":-5,"values":[0.2,0.225,0.25,0.275,0.3,0.325,0.35,0.375,0.4,0.425,0.45,0.475],"labelExpr":"(abs(datum.value-0.2)<0.001||abs(datum.value-0.3)<0.001||abs(datum.value-0.4)<0.001) ? format(datum.value,'.1f') : ''","tickSize":5,"tickWidth":1.5,"domain":false,"labelFontSize":29,"labelPadding":10,"title":"Magneitc Field / T","titleFontSize":30.5,"titleY":70,"titleBaseline":"alphabetic"}},
  "y":{"field":"t","type":"quantitative","scale":{"domain":[-2,10],"nice":false,"zero":false},
   "axis":{"orient":"left","zindex":2,"offset":-5,"values":[-1,0,1,2,3,4,5,6,7,8,9],"labelExpr":"indexof([0,3,6,9],datum.value)>=0 ? datum.label : ''","tickSize":5,"tickWidth":1.5,"domain":false,"labelFontSize":31,"labelPadding":3,"title":"Time / μs","titleFontSize":32.5,"titleX":-35,"titleY":170,"titleBaseline":"alphabetic"}},
  "color":{"field":"v","type":"quantitative","legend":null,"scale":{"type":"threshold","domain":[-1,-0.9,-0.8,-0.7,-0.6,-0.5,-0.4,-0.3,-0.2,-0.1,0,0.1,0.2,0.3,0.4,0.5,0.6,0.7,0.8,0.9],"range":["#000000","#2b4b9f","#2d53a8","#2f62b3","#2e8fd0","#22b8e8","#5ec0cf","#5cbaa8","#5db68f","#62b770","#6cba48","#6cba46","#76bd42","#8ac43e","#b6cf44","#e9e64c","#efb436","#f08c30","#ec6530","#e8432a","#e82a2a"]}}}},
{"data":{"name":"tail"},"mark":{"type":"rect","width":6.6,"height":16},
 "encoding":{
  "x":{"field":"x","type":"quantitative","scale":{"domain":[0.2,0.5],"nice":false,"zero":false},
   "axis":{"orient":"top","zindex":2,"offset":-5,"values":[0.225,0.25,0.275,0.3,0.325,0.35,0.375,0.4,0.425,0.45,0.475],"labels":false,"tickSize":5,"tickWidth":1.5,"domain":false,"title":null}},
  "y":{"field":"t","type":"quantitative","scale":{"domain":[-2,10],"nice":false,"zero":false},
   "axis":{"orient":"right","zindex":2,"offset":-5,"values":[-1,0,1,2,3,4,5,6,7,8,9],"labels":false,"tickSize":5,"tickWidth":1.5,"domain":false,"title":null}},
  "color":{"field":"v","type":"quantitative","legend":null,"scale":{"type":"threshold","domain":[-1,-0.9,-0.8,-0.7,-0.6,-0.5,-0.4,-0.3,-0.2,-0.1,0,0.1,0.2,0.3,0.4,0.5,0.6,0.7,0.8,0.9],"range":["#000000","#2b4b9f","#2d53a8","#2f62b3","#2e8fd0","#22b8e8","#5ec0cf","#5cbaa8","#5db68f","#62b770","#6cba48","#6cba46","#76bd42","#8ac43e","#b6cf44","#e9e64c","#efb436","#f08c30","#ec6530","#e8432a","#e82a2a"]}}}},
{"data":{"values":[{"x":0.1553,"t":9.565,"txt":"(a)"}]},"mark":{"type":"text","fontSize":23,"align":"center","baseline":"middle","color":"#111"},
 "encoding":{
  "x":{"field":"x","type":"quantitative","scale":{"domain":[0.2,0.5],"nice":false,"zero":false},"axis":null},
  "y":{"field":"t","type":"quantitative","scale":{"domain":[-2,10],"nice":false,"zero":false},"axis":null},
  "text":{"field":"txt"}}}
],
"resolve":{"axis":{"x":"independent","y":"independent"}}
},
{
"width":28,"height":374,
"data":{"name":"bar"},
"mark":{"type":"rect"},
"encoding":{
 "y":{"field":"lo","type":"quantitative","scale":{"domain":[-1.093,1.081],"nice":false,"zero":false},
  "axis":{"orient":"right","values":[-1,-0.5,0,0.5,1],"labelExpr":"datum.value==1 ? '1.000' : datum.value==0.5 ? '0.5000' : datum.value==0 ? '0.000' : datum.value==-0.5 ? '-0.5000' : '-1.000'","ticks":false,"domain":false,"labelFontSize":22,"labelPadding":10,"title":null,"labelAlign":"left","labelBaseline":"middle"}},
 "y2":{"field":"hi"},
 "color":{"field":"v","type":"quantitative","legend":null,"scale":{"type":"threshold","domain":[-1,-0.9,-0.8,-0.7,-0.6,-0.5,-0.4,-0.3,-0.2,-0.1,0,0.1,0.2,0.3,0.4,0.5,0.6,0.7,0.8,0.9],"range":["#000000","#2b4b9f","#2d53a8","#2f62b3","#2e8fd0","#22b8e8","#5ec0cf","#5cbaa8","#5db68f","#62b770","#6cba48","#6cba46","#76bd42","#8ac43e","#b6cf44","#e9e64c","#efb436","#f08c30","#ec6530","#e8432a","#e82a2a"]}}
}
}
]
},
{
"width":393,"height":230,
"resolve":{"axis":{"x":"independent"}},
"layer":[
{"data":{"name":"lines"},"transform":[{"filter":"datum.s=='Obs'"}],"mark":{"type":"line","strokeWidth":1.3},
 "encoding":{
  "x":{"field":"B","type":"quantitative","scale":{"domain":[0.2,0.5],"nice":false,"zero":false},
   "axis":{"orient":"bottom","zindex":2,"offset":-5,"values":[0.2,0.22,0.24,0.26,0.28,0.3,0.32,0.34,0.36,0.38,0.4,0.42,0.44,0.46,0.48,0.5],"labelExpr":"abs(datum.value*10-round(datum.value*10))<0.01 ? format(datum.value,'.1f') : ''","tickSize":5,"tickWidth":1.5,"domain":false,"labelFontSize":24,"labelPadding":10,"title":"Magnetic Field / T","titleFontSize":25,"titleY":69,"titleBaseline":"alphabetic"}},
  "y":{"field":"I","type":"quantitative","scale":{"domain":[-151,79],"nice":false,"zero":false},"axis":null},
  "color":{"field":"s","type":"nominal","legend":null,"scale":{"domain":["Obs","Sim","k"],"range":["#e6312b","#3d60ae","#111111"]}}}},
{"data":{"name":"lines"},"transform":[{"filter":"datum.s=='Sim'"}],"mark":{"type":"line","strokeWidth":1.5,"interpolate":"monotone"},
 "encoding":{
  "x":{"field":"B","type":"quantitative","scale":{"domain":[0.2,0.5],"nice":false,"zero":false},
   "axis":{"orient":"bottom","zindex":2,"ticks":false,"labels":false,"domain":true,"domainWidth":1.5,"title":null}},
  "y":{"field":"I","type":"quantitative","scale":{"domain":[-151,79],"nice":false,"zero":false},"axis":null},
  "color":{"field":"s","type":"nominal","legend":null,"scale":{"domain":["Obs","Sim","k"],"range":["#e6312b","#3d60ae","#111111"]}}}},
{"data":{"name":"notes"},"mark":{"type":"text","fontSize":26,"align":"center","baseline":"middle"},
 "encoding":{
  "x":{"field":"B","type":"quantitative","scale":{"domain":[0.2,0.5],"nice":false,"zero":false},"axis":null},
  "y":{"field":"I","type":"quantitative","scale":{"domain":[-151,79],"nice":false,"zero":false},"axis":null},
  "text":{"field":"txt"},
  "color":{"field":"s","type":"nominal","legend":null,"scale":{"domain":["Obs","Sim","k"],"range":["#e6312b","#3d60ae","#111111"]}}}},
{"data":{"values":[{"B":0.1885,"I":65,"txt":"(b)"}]},"mark":{"type":"text","fontSize":23,"align":"center","baseline":"middle","color":"#111"},
 "encoding":{
  "x":{"field":"B","type":"quantitative","scale":{"domain":[0.2,0.5],"nice":false,"zero":false},"axis":null},
  "y":{"field":"I","type":"quantitative","scale":{"domain":[-151,79],"nice":false,"zero":false},"axis":null},
  "text":{"field":"txt"}}},
{"data":{"name":"vline"},"mark":{"type":"rule","strokeWidth":2,"color":"#111"},
 "encoding":{
  "x":{"field":"B","type":"quantitative","scale":{"domain":[0.2,0.5],"nice":false,"zero":false},"axis":null},
  "y":{"field":"I","type":"quantitative","scale":{"domain":[-151,79],"nice":false,"zero":false},"axis":null},
  "y2":{"field":"I2"}}},
{"data":{"name":"hline"},"mark":{"type":"rule","strokeWidth":2,"color":"#111"},
 "encoding":{
  "x":{"field":"B","type":"quantitative","scale":{"domain":[0.2,0.5],"nice":false,"zero":false},"axis":null},
  "x2":{"field":"B2"},
  "y":{"field":"I","type":"quantitative","scale":{"domain":[-151,79],"nice":false,"zero":false},"axis":null}}},
{"data":{"name":"heads"},"mark":{"type":"point","filled":true,"opacity":1,"color":"#111","size":484,"strokeWidth":0},
 "encoding":{
  "x":{"field":"B","type":"quantitative","scale":{"domain":[0.2,0.5],"nice":false,"zero":false},"axis":null},
  "y":{"field":"I","type":"quantitative","scale":{"domain":[-151,79],"nice":false,"zero":false},"axis":null},
  "shape":{"field":"dir","type":"nominal","legend":null,"scale":{"domain":["up","down"],"range":["M0,-1L0.65,1L0,0.7L-0.65,1Z","M0,1L0.65,-1L0,-0.7L-0.65,-1Z"]}}}}
]
}
]
}
